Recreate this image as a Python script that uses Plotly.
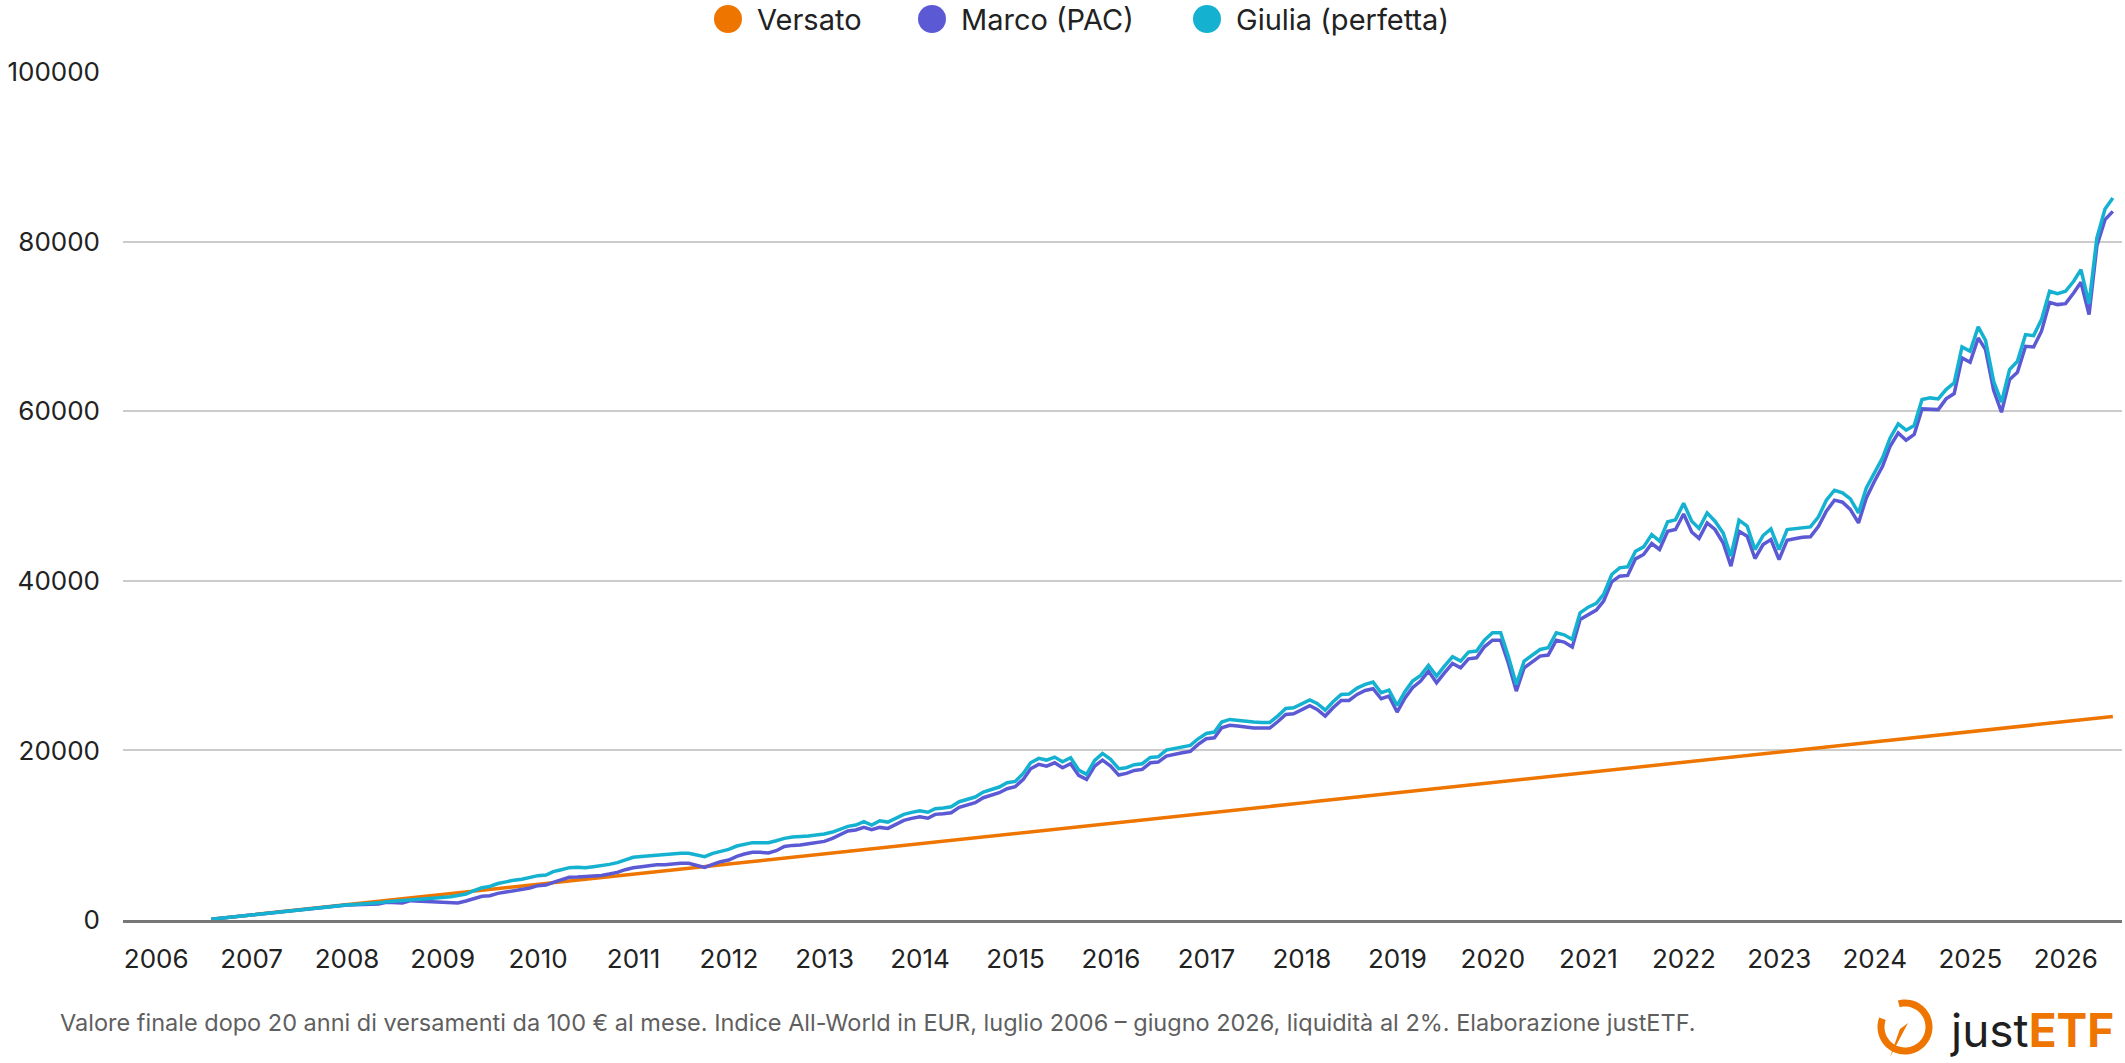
import numpy as np
import pandas as pd
import plotly.graph_objects as go

# ---------------- data ----------------
months = pd.date_range("2006-07-31", periods=240, freq="ME")

versato = [
    100, 200, 300, 400, 500, 600, 700, 800, 900, 1000, 1100, 1200,
    1300, 1400, 1500, 1600, 1700, 1800, 1900, 2000, 2100, 2200, 2300, 2400,
    2500, 2600, 2700, 2800, 2900, 3000, 3100, 3200, 3300, 3400, 3500, 3600,
    3700, 3800, 3900, 4000, 4100, 4200, 4300, 4400, 4500, 4600, 4700, 4800,
    4900, 5000, 5100, 5200, 5300, 5400, 5500, 5600, 5700, 5800, 5900, 6000,
    6100, 6200, 6300, 6400, 6500, 6600, 6700, 6800, 6900, 7000, 7100, 7200,
    7300, 7400, 7500, 7600, 7700, 7800, 7900, 8000, 8100, 8200, 8300, 8400,
    8500, 8600, 8700, 8800, 8900, 9000, 9100, 9200, 9300, 9400, 9500, 9600,
    9700, 9800, 9900, 10000, 10100, 10200, 10300, 10400, 10500, 10600, 10700, 10800,
    10900, 11000, 11100, 11200, 11300, 11400, 11500, 11600, 11700, 11800, 11900, 12000,
    12100, 12200, 12300, 12400, 12500, 12600, 12700, 12800, 12900, 13000, 13100, 13200,
    13300, 13400, 13500, 13600, 13700, 13800, 13900, 14000, 14100, 14200, 14300, 14400,
    14500, 14600, 14700, 14800, 14900, 15000, 15100, 15200, 15300, 15400, 15500, 15600,
    15700, 15800, 15900, 16000, 16100, 16200, 16300, 16400, 16500, 16600, 16700, 16800,
    16900, 17000, 17100, 17200, 17300, 17400, 17500, 17600, 17700, 17800, 17900, 18000,
    18100, 18200, 18300, 18400, 18500, 18600, 18700, 18800, 18900, 19000, 19100, 19200,
    19300, 19400, 19500, 19600, 19700, 19800, 19900, 20000, 20100, 20200, 20300, 20400,
    20500, 20600, 20700, 20800, 20900, 21000, 21100, 21200, 21300, 21400, 21500, 21600,
    21700, 21800, 21900, 22000, 22100, 22200, 22300, 22400, 22500, 22600, 22700, 22800,
    22900, 23000, 23100, 23200, 23300, 23400, 23500, 23600, 23700, 23800, 23900, 24000,
]

marco = [
    100, 200, 305, 410, 515, 620, 725, 830, 935, 1040, 1140, 1240,
    1330, 1430, 1520, 1600, 1680, 1760, 1800, 1800, 1800, 1890, 2080, 2040,
    2000, 2280, 2240, 2160, 2080, 2040, 2040, 2000, 2240, 2550, 2790, 2870,
    3140, 3300, 3460, 3580, 3770, 4050, 4125, 4440, 4790, 5030, 5070, 5110,
    5190, 5260, 5420, 5620, 5930, 6170, 6290, 6440, 6520, 6520, 6640, 6680,
    6680, 6480, 6210, 6560, 6880, 7070, 7500, 7780, 7980, 7980, 7900, 8170,
    8680, 8800, 8840, 9000, 9150, 9270, 9630, 10060, 10490, 10610, 10920, 10650,
    10920, 10800, 11280, 11750, 11980, 12180, 12000, 12455, 12530, 12650, 13280, 13590,
    13830, 14420, 14690, 15010, 15480, 15720, 16580, 17840, 18350, 18150, 18540, 17960,
    18430, 17050, 16580, 18150, 18860, 18150, 17090, 17290, 17640, 17760, 18540, 18620,
    19330, 19570, 19720, 19880, 20710, 21370, 21490, 22670, 22950, 22870, 22750, 22630,
    22630, 22630, 23380, 24240, 24320, 24830, 25260, 24830, 24050, 25030, 25890, 25890,
    26600, 27070, 27270, 26090, 26400, 24520, 26210, 27390, 28170, 29350, 27980, 29150,
    30250, 29740, 30800, 30920, 32220, 33000, 33000, 30330, 26990, 29740, 30410, 31120,
    31240, 33000, 32770, 32180, 35440, 36030, 36540, 37600, 39880, 40550, 40630, 42590,
    43100, 44400, 43690, 45850, 46050, 47880, 45750, 45000, 46830, 46050, 44480, 41730,
    45850, 45260, 42630, 44280, 44870, 42510, 44790, 44950, 45140, 45180, 46440, 48210,
    49510, 49270, 48400, 46830, 49780, 51740, 53510, 55870, 57440, 56580, 57250, 60270,
    60270, 60190, 61450, 62080, 66280, 65770, 68640, 67260, 62470, 59880, 63730, 64590,
    67660, 67580, 69430, 72840, 72570, 72680, 73940, 75200, 71390, 79520, 82590, 83570,
]

giulia = [
    100, 200, 305, 410, 515, 620, 725, 830, 935, 1040, 1140, 1240,
    1335, 1440, 1530, 1610, 1700, 1780, 1830, 1880, 1920, 2020, 2150, 2200,
    2280, 2400, 2450, 2520, 2580, 2650, 2750, 2880, 3060, 3450, 3800, 3950,
    4300, 4500, 4700, 4800, 5000, 5230, 5300, 5700, 5930, 6170, 6210, 6170,
    6290, 6400, 6560, 6760, 7110, 7390, 7500, 7580, 7620, 7700, 7780, 7860,
    7860, 7620, 7470, 7860, 8090, 8330, 8720, 8960, 9120, 9120, 9120, 9350,
    9630, 9780, 9820, 9900, 10020, 10140, 10370, 10730, 11040, 11200, 11590, 11200,
    11710, 11550, 11980, 12450, 12690, 12890, 12710, 13120, 13200, 13360, 13950, 14260,
    14500, 15090, 15400, 15680, 16190, 16340, 17290, 18540, 19060, 18860, 19210, 18660,
    19130, 17680, 17170, 18820, 19645, 18940, 17840, 17960, 18310, 18430, 19170, 19250,
    20040, 20200, 20390, 20590, 21370, 22000, 22160, 23340, 23650, 23530, 23460, 23340,
    23300, 23300, 24050, 24950, 25030, 25540, 25950, 25540, 24750, 25730, 26600, 26640,
    27350, 27780, 28050, 26800, 27110, 25300, 26990, 28170, 28840, 30020, 28760, 29940,
    31040, 30530, 31590, 31710, 33000, 33870, 33870, 31120, 27780, 30530, 31200, 31900,
    32100, 33870, 33630, 33080, 36220, 36890, 37330, 38390, 40740, 41530, 41650, 43490,
    44000, 45460, 44670, 46970, 47190, 49150, 47030, 46180, 48010, 47030, 45650, 42900,
    47150, 46440, 43690, 45340, 46120, 43690, 46050, 46120, 46240, 46360, 47540, 49510,
    50680, 50370, 49660, 48010, 50960, 52730, 54500, 56850, 58500, 57760, 58310, 61370,
    61570, 61450, 62550, 63340, 67580, 67070, 69940, 68360, 63530, 61060, 64910, 65890,
    69030, 68910, 70800, 74140, 73870, 74140, 75320, 76690, 72690, 80430, 83850, 85140,
]

series_names = ["Versato", "Marco (PAC)", "Giulia (perfetta)"]
series_colors = ["#EE7500", "#5B59D4", "#14B2D0"]
year_ticks = list(range(2006, 2027))
y_ticks = [0, 20000, 40000, 60000, 80000, 100000]
footer_text = ("Valore finale dopo 20 anni di versamenti da 100 € al mese. "
               "Indice All-World in EUR, luglio 2006 – giugno 2026, liquidità al 2%. "
               "Elaborazione justETF.")

assert len(versato) == len(marco) == len(giulia) == len(months) == 240

# ---------------- layout geometry ----------------
W, H = 2125, 1063
ML, MR, MT, MB = 123, 3, 72, 143
PW, PH = W - ML - MR, H - MT - MB
FONT = "Inter, 'Noto Sans', sans-serif"


def px(x):
    return (x - ML) / PW


def py(y):
    return (H - MB - y) / PH


fig = go.Figure()
for name, vals, col in zip(series_names, [versato, marco, giulia], series_colors):
    fig.add_trace(go.Scatter(x=months, y=vals, name=name, mode="lines",
                             line=dict(color=col, width=3.5), showlegend=False,
                             hovertemplate="%{x|%b %Y}: %{y:,.0f} €<extra>" + name + "</extra>"))

shapes = []
annotations = []

# custom legend (large circle markers)
legend_cx = [728, 932, 1207]
for name, col, cx in zip(series_names, series_colors, legend_cx):
    shapes.append(dict(type="circle", xref="paper", yref="paper",
                       xsizemode="pixel", ysizemode="pixel",
                       xanchor=px(cx), yanchor=py(19),
                       x0=-14, x1=14, y0=-14, y1=14,
                       fillcolor=col, line=dict(width=0)))
    annotations.append(dict(text=name, xref="paper", yref="paper",
                            x=px(cx + 27), y=py(19), xanchor="left", yanchor="middle",
                            showarrow=False, font=dict(family=FONT, size=29, color="#222222")))

# footer note
annotations.append(dict(text=footer_text, xref="paper", yref="paper",
                        x=px(58), y=py(1023), xanchor="left", yanchor="middle",
                        showarrow=False, font=dict(family=FONT, size=23.5, color="#5f5f5f")))

# justETF logo
annotations.append(dict(text="just<span style='color:#EE7500'><b>ETF</b></span>",
                        xref="paper", yref="paper", x=px(1948), y=py(1030),
                        xanchor="left", yanchor="middle", showarrow=False,
                        font=dict(family=FONT, size=46, color="#1f1f1f")))

cx, cy, r = 1905, 1027, 24
ang = np.radians(np.linspace(105, -200, 60))
outer = [(cx + (r + 3.5) * np.cos(a), cy - (r + 3.5) * np.sin(a)) for a in ang]
inner = [(cx + (r - 3.5) * np.cos(a), cy - (r - 3.5) * np.sin(a)) for a in ang[::-1]]
pts = outer + inner
path = "M " + " L ".join(f"{px(x):.5f},{py(y):.5f}" for x, y in pts) + " Z"
shapes.append(dict(type="path", xref="paper", yref="paper", path=path,
                   fillcolor="#EE7500", line=dict(width=0)))
needle = [(cx + 3, cy - 4), (cx - 5, cy + 2), (cx - 15, cy + 30)]
path2 = "M " + " L ".join(f"{px(x):.5f},{py(y):.5f}" for x, y in needle) + " Z"
shapes.append(dict(type="path", xref="paper", yref="paper", path=path2,
                   fillcolor="#EE7500", line=dict(width=0)))

fig.update_layout(
    width=W, height=H, autosize=False,
    margin=dict(l=ML, r=MR, t=MT, b=MB, pad=0),
    paper_bgcolor="white", plot_bgcolor="white",
    font=dict(family=FONT, size=26, color="#222222"),
    showlegend=False,
    shapes=shapes, annotations=annotations,
    xaxis=dict(type="date", range=["2005-08-27", "2026-08-04"],
               tickmode="array",
               tickvals=[f"{y}-01-01" for y in year_ticks],
               ticktext=[str(y) for y in year_ticks],
               showgrid=False, zeroline=False,
               showline=True, linecolor="#777777", linewidth=2.5,
               ticks="", ticklabelstandoff=14,
               tickfont=dict(family=FONT, size=26, color="#222222")),
    yaxis=dict(range=[0, 100000], tickmode="array", tickvals=y_ticks,
               ticktext=[str(v) for v in y_ticks],
               showgrid=True, gridcolor="#cccccc", gridwidth=1.5,
               zeroline=False, showline=False, ticks="",
               ticklabelstandoff=22,
               tickfont=dict(family=FONT, size=26, color="#222222")),
)

fig.write_html("out.html")
